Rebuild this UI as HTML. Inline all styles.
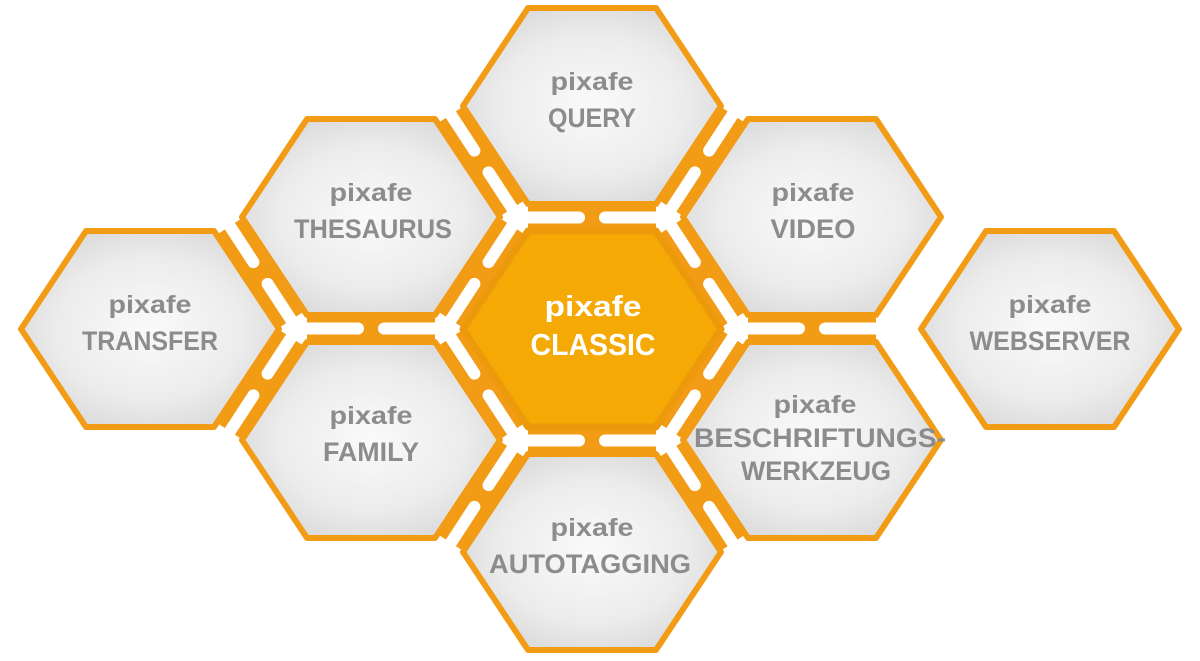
<!DOCTYPE html>
<html><head><meta charset="utf-8"><style>
html,body{margin:0;padding:0;background:#fff;width:1200px;height:661px;overflow:hidden}
svg{display:block}
text{font-family:"Liberation Sans",sans-serif;font-weight:bold;text-anchor:middle}
.g{fill:#8c8c8c}.w{fill:#fff}
</style></head><body>
<svg id="s" width="1200" height="661" viewBox="0 0 1200 661">
<defs>
<radialGradient id="rg" cx="50%" cy="50%" r="60%">
<stop offset="0" stop-color="#fafafa"/><stop offset="0.6" stop-color="#ececec"/><stop offset="1" stop-color="#d6d6d6"/>
</radialGradient>
</defs>
<g id="shapes"></g>
<g>
<text class="g" x="150" y="313" font-size="25" font-weight="normal" textLength="83" lengthAdjust="spacingAndGlyphs">pixafe</text>
<text class="g" x="150" y="350" font-size="27" textLength="136" lengthAdjust="spacingAndGlyphs">TRANSFER</text>
<text class="g" x="371" y="201" font-size="25" font-weight="normal" textLength="83" lengthAdjust="spacingAndGlyphs">pixafe</text>
<text class="g" x="373" y="238" font-size="27" textLength="158" lengthAdjust="spacingAndGlyphs">THESAURUS</text>
<text class="g" x="371" y="424" font-size="25" font-weight="normal" textLength="83" lengthAdjust="spacingAndGlyphs">pixafe</text>
<text class="g" x="371" y="461" font-size="27" textLength="96" lengthAdjust="spacingAndGlyphs">FAMILY</text>
<text class="g" x="592" y="90" font-size="25" font-weight="normal" textLength="83" lengthAdjust="spacingAndGlyphs">pixafe</text>
<text class="g" x="592" y="127" font-size="27" textLength="88" lengthAdjust="spacingAndGlyphs">QUERY</text>
<text class="w" x="593" y="316" font-size="29" textLength="97" lengthAdjust="spacingAndGlyphs">pixafe</text>
<text class="w" x="593" y="355" font-size="31" textLength="125" lengthAdjust="spacingAndGlyphs">CLASSIC</text>
<text class="g" x="592" y="536" font-size="25" font-weight="normal" textLength="83" lengthAdjust="spacingAndGlyphs">pixafe</text>
<text class="g" x="590" y="573" font-size="27" textLength="202" lengthAdjust="spacingAndGlyphs">AUTOTAGGING</text>
<text class="g" x="813" y="201" font-size="25" font-weight="normal" textLength="83" lengthAdjust="spacingAndGlyphs">pixafe</text>
<text class="g" x="813" y="238" font-size="27" textLength="85" lengthAdjust="spacingAndGlyphs">VIDEO</text>
<text class="g" x="815" y="413" font-size="25" font-weight="normal" textLength="83" lengthAdjust="spacingAndGlyphs">pixafe</text>
<text class="g" x="820" y="447" font-size="27" textLength="252" lengthAdjust="spacingAndGlyphs">BESCHRIFTUNGS-</text>
<text class="g" x="816" y="480" font-size="27" textLength="150" lengthAdjust="spacingAndGlyphs">WERKZEUG</text>
<text class="g" x="1050" y="313" font-size="25" font-weight="normal" textLength="83" lengthAdjust="spacingAndGlyphs">pixafe</text>
<text class="g" x="1050" y="350" font-size="27" textLength="161" lengthAdjust="spacingAndGlyphs">WEBSERVER</text>
</g>
</svg>
<script>
var O="#f29c16";
var C={TR:[150,329],TH:[371,217],FA:[371,440],QU:[592,106],CL:[592,329],AU:[592,552],VI:[812,217],BE:[812,440],WE:[1050,329]};
var P=[["TR","TH"],["TR","FA"],["TH","FA"],["TH","QU"],["TH","CL"],["FA","CL"],["FA","AU"],["QU","CL"],["QU","VI"],["CL","VI"],["CL","AU"],["CL","BE"],["AU","BE"],["VI","BE"]];
var g=document.getElementById("shapes"),band="",white="";
P.forEach(function(p){
 var a=C[p[0]],b=C[p[1]],mx=(a[0]+b[0])/2,my=(a[1]+b[1])/2,dx,dy,L,W;
 if(a[0]==b[0]){dx=1;dy=0;L=64;W=76;}else{
  var s=((b[0]-a[0])*(b[1]-a[1])>0)?-1:1; var n=Math.sqrt(66*66+101*101);dx=66/n;dy=s*101/n;L=56;W=70;}
 band+='<line x1="'+(mx-dx*L)+'" y1="'+(my-dy*L)+'" x2="'+(mx+dx*L)+'" y2="'+(my+dy*L)+'" stroke="'+O+'" stroke-width="30"/>';
 var B=13;
 white+='<line x1="'+(mx-dx*W)+'" y1="'+(my-dy*W)+'" x2="'+(mx-dx*B)+'" y2="'+(my-dy*B)+'" stroke="#fff" stroke-width="12" stroke-linecap="round"/>';
 white+='<line x1="'+(mx+dx*B)+'" y1="'+(my+dy*B)+'" x2="'+(mx+dx*W)+'" y2="'+(my+dy*W)+'" stroke="#fff" stroke-width="12" stroke-linecap="round"/>';
});
var hex="";
for(var k in C){var c=C[k],x=c[0],y=c[1],w=129,t=64,h=98;
 var pts=[[x-w,y],[x-t,y-h],[x+t,y-h],[x+w,y],[x+t,y+h],[x-t,y+h]].map(function(q){return q.join(",")}).join(" ");
 if(k=="CL")hex+='<polygon points="'+pts+'" fill="#f5a905" stroke="#ec9a0c" stroke-width="7" stroke-linejoin="round"/>';
 else hex+='<polygon points="'+pts+'" fill="url(#rg)" stroke="'+O+'" stroke-width="6" stroke-linejoin="round"/>';
}
g.innerHTML=band+white+hex;
</script>
</body></html>
